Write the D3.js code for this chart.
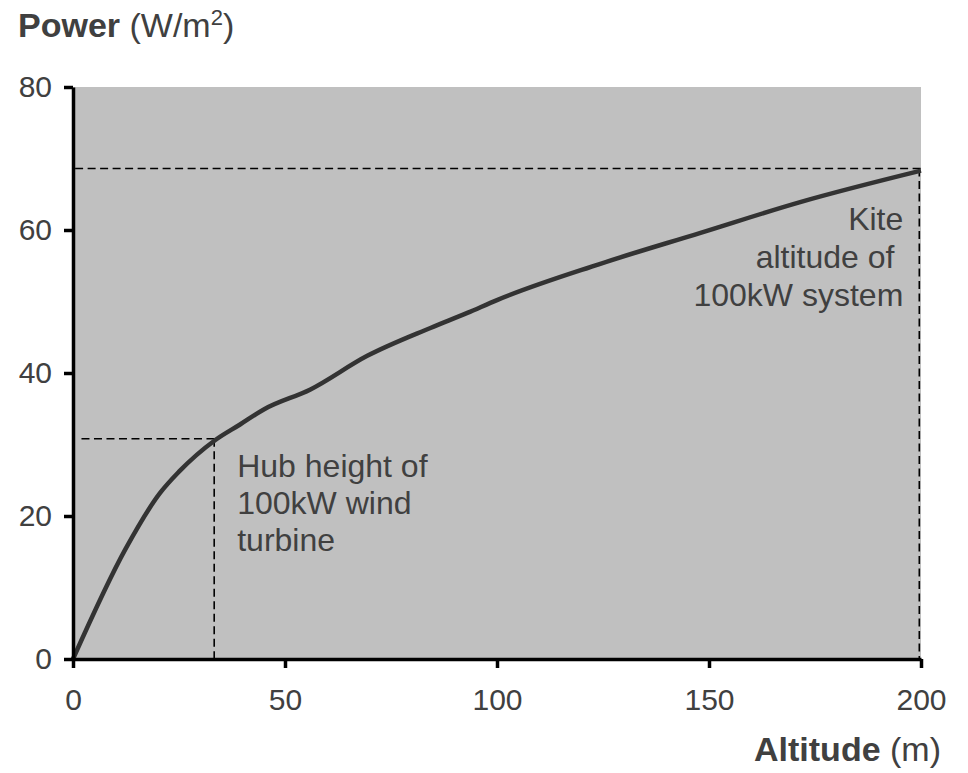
<!DOCTYPE html>
<html>
<head>
<meta charset="utf-8">
<script src="https://cdn.jsdelivr.net/npm/d3@7"></script>
<style>
  body { margin: 0; background: #fff; }
  svg text { font-family: "Liberation Sans", Arial, sans-serif; fill: #404040; }
</style>
</head>
<body>
<svg id="chart" width="968" height="773"></svg>
<script>
// Power density against altitude
const altitude = [0, 12.4, 20.5, 25, 33.5, 39.4, 45, 56, 69.4, 84.3, 93, 100, 124, 148, 171.5, 200];
const power = [0, 15.4, 23.2, 26.2, 30.6, 32.8, 34.9, 37.7, 42.4, 46.3, 48.4, 50.2, 55.2, 59.6, 63.9, 68.3];

const xTicks = [0, 50, 100, 150, 200];
const yTicks = [0, 20, 40, 60, 80];

// Annotations: [altitude, power]
const hub = [33.3, 30.8];
const kite = [199.6, 68.6];
const hubLabel = ["Hub height of", "100kW wind", "turbine"];
const kiteLabel = ["Kite", "altitude of\u00a0", "100kW system"];

const pad = { left: 73, right: 47, top: 87, bottom: 114 };
const width = 968, height = 773;
const innerWidth = width - pad.left - pad.right;
const innerHeight = height - pad.top - pad.bottom;

const svg = d3.select("#chart");

const x = d3.scaleLinear().domain([0, 200]).range([0, innerWidth]);
const y = d3.scaleLinear().domain([0, 80]).range([innerHeight, 0]);

const g = svg.append("g").attr("transform", `translate(${pad.left},${pad.top})`);

// Plot background
g.append("rect")
  .attr("x", 0).attr("y", 0)
  .attr("width", innerWidth).attr("height", innerHeight)
  .attr("fill", "#c0c0c0");

// Dashed guides
const dash = "8,4.5";
const guide = (x1, y1, x2, y2) =>
  g.append("line")
    .attr("x1", x1).attr("y1", y1).attr("x2", x2).attr("y2", y2)
    .attr("stroke", "#000").attr("stroke-width", 1.6).attr("stroke-dasharray", dash);

guide(x(2), y(hub[1]), x(hub[0]), y(hub[1]));
guide(x(hub[0]), y(hub[1]), x(hub[0]), y(0));
guide(x(0.5), y(kite[1]), x(200), y(kite[1]));
guide(x(kite[0]), y(kite[1]), x(kite[0]), y(0));

// Power curve
const line = d3.line()
  .x((d, i) => x(altitude[i]))
  .y((d) => y(d))
  .curve(d3.curveMonotoneX);
g.append("path")
  .datum(power)
  .attr("d", line)
  .attr("fill", "none")
  .attr("stroke", "#333")
  .attr("stroke-width", 4.5)
  .attr("stroke-linejoin", "round");

// Axes
const gx = g.append("g")
  .attr("transform", `translate(0,${innerHeight})`)
  .call(d3.axisBottom(x).tickValues(xTicks).tickSize(9).tickSizeOuter(0).tickPadding(13));
const gy = g.append("g")
  .call(d3.axisLeft(y).tickValues(yTicks).tickSize(9).tickSizeOuter(0).tickPadding(12));

[gx, gy].forEach((ax) => {
  ax.attr("font-size", 30).attr("font-family", '"Liberation Sans", Arial, sans-serif');
  ax.select(".domain").attr("stroke", "#000").attr("stroke-width", 3.5);
  ax.selectAll(".tick line").attr("stroke", "#000").attr("stroke-width", 3.5);
  ax.selectAll(".tick text").attr("fill", "#404040");
});
gx.selectAll(".tick text").attr("dy", "0.95em");

// Annotation text
g.append("text")
  .attr("font-size", 32)
  .selectAll("tspan")
  .data(hubLabel)
  .join("tspan")
  .attr("x", x(hub[0]) + 23)
  .attr("y", (d, i) => y(hub[1]) + 38 + i * 37)
  .text((d) => d);

g.append("text")
  .attr("font-size", 32)
  .attr("text-anchor", "end")
  .selectAll("tspan")
  .data(kiteLabel)
  .join("tspan")
  .attr("x", x(kite[0]) - 16)
  .attr("y", (d, i) => y(kite[1]) + 61 + i * 38)
  .text((d) => d);

// Axis titles
const yTitle = svg.append("text").attr("x", 18).attr("y", 37).attr("font-size", 34);
yTitle.append("tspan").attr("font-weight", "bold").text("Power");
yTitle.append("tspan").text(" (W/m");
yTitle.append("tspan").attr("font-size", 22).attr("dy", -12).text("2");
yTitle.append("tspan").attr("dy", 12).text(")");

const xTitle = svg.append("text")
  .attr("x", 941).attr("y", 761)
  .attr("text-anchor", "end")
  .attr("font-size", 34);
xTitle.append("tspan").attr("font-weight", "bold").text("Altitude");
xTitle.append("tspan").text(" (m)");
</script>
</body>
</html>
